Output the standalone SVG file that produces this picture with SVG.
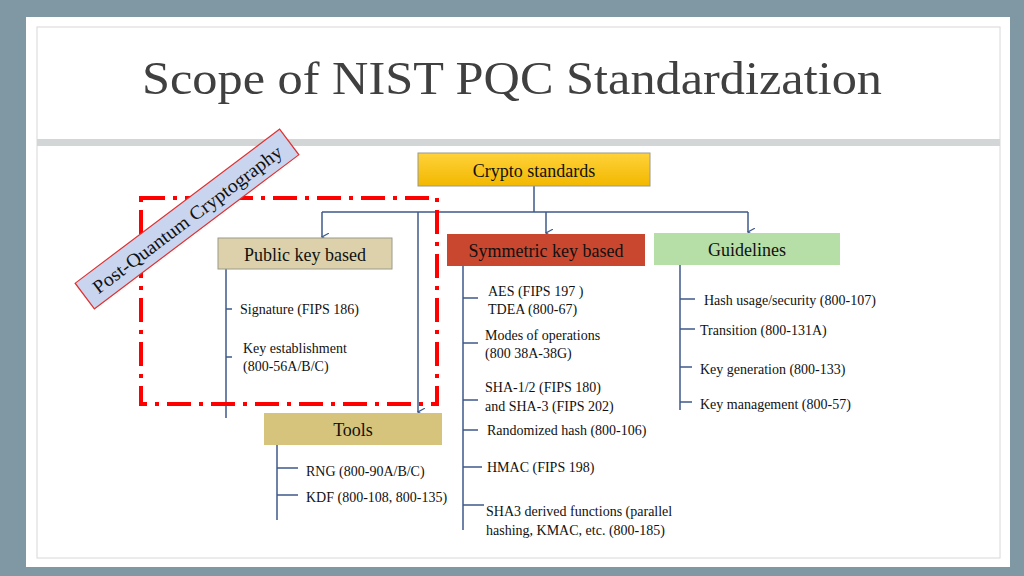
<svg xmlns="http://www.w3.org/2000/svg" width="1024" height="576" viewBox="0 0 1024 576">
<defs>
<style>
.t{font-family:"Liberation Serif","DejaVu Serif",serif;fill:#111}
.s{font-size:14px}
.n{font-size:18px}
.c{stroke:#3f5a8a;stroke-width:1.5;fill:none}
.box{stroke:#9a9a8a;stroke-width:1}
</style>
<marker id="a" viewBox="0 0 10 10" refX="5" refY="9" markerWidth="8" markerHeight="8" orient="auto-start-reverse" markerUnits="userSpaceOnUse"><path d="M0,0 L5,9 L10,0" fill="none" stroke="#3f5a8a" stroke-width="1.5"/></marker>
<linearGradient id="g" x1="0" y1="0" x2="0" y2="1"><stop offset="0" stop-color="#ffd23a"/><stop offset="1" stop-color="#f2b800"/></linearGradient>
</defs>
<rect width="1024" height="576" fill="#7f98a3"/>
<rect x="26" y="17" width="984" height="550" fill="#fff"/>
<rect x="37" y="27" width="963" height="531" fill="none" stroke="#d8d8d8"/>
<rect x="37" y="139" width="963" height="7" fill="#d3d6d6"/>
<text class="t" x="142" y="94" font-size="46" style="fill:#404040" textLength="740" lengthAdjust="spacingAndGlyphs">Scope of NIST PQC Standardization</text>
<g id="connectors">
<path class="c" d="M534,186 V212 M322,212 H748"/>
<path class="c" d="M322,212 V237" marker-end="url(#a)"/>
<path class="c" d="M546,212 V233" marker-end="url(#a)"/>
<path class="c" d="M748,212 V232" marker-end="url(#a)"/>
<path class="c" d="M418,212 V412" marker-end="url(#a)"/>
<path class="c" d="M226,269 V418 M226,309 H232 M226,357 H232"/>
<path class="c" d="M463,266 V530 M463,298 H478 M463,343 H478 M463,400 H478 M463,430 H478 M463,467 H482 M463,505 H484"/>
<path class="c" d="M680,265 V410 M680,299 H695 M680,329 H695 M680,367 H692 M680,402 H692"/>
<path class="c" d="M277,445 V520 M277,468 H298 M277,495 H298"/>
</g>
<rect x="141" y="198" width="296" height="206" fill="none" stroke="#f00" stroke-width="4" stroke-dasharray="24 8 4 8"/>
<g id="pqc" transform="translate(187,219) rotate(-37)">
<rect x="-128" y="-16" width="256" height="32" fill="#c9d4ee" stroke="#e03030" stroke-width="1.2"/>
<text class="t" x="0" y="7" font-size="19" text-anchor="middle" textLength="232" lengthAdjust="spacingAndGlyphs">Post-Quantum Cryptography</text>
</g>
<g id="crypto"><rect class="box" x="418" y="153" width="232" height="33" fill="url(#g)"/><text class="t n" x="534" y="177" text-anchor="middle">Crypto standards</text></g>
<g id="public"><rect class="box" x="218" y="238" width="174" height="31" fill="#ddd1ab" stroke="#555"/><text class="t n" x="305" y="261" text-anchor="middle">Public key based</text></g>
<g id="symmetric"><rect x="447" y="234" width="198" height="32" fill="#c9472f"/><text class="t n" x="546" y="257" text-anchor="middle">Symmetric key based</text></g>
<g id="guidelines"><rect x="654" y="233" width="186" height="32" fill="#b6dea7"/><text class="t n" x="747" y="256" text-anchor="middle">Guidelines</text></g>
<g id="tools"><rect x="264" y="413" width="178" height="32" fill="#d6c37c"/><text class="t n" x="353" y="436" text-anchor="middle">Tools</text></g>
<g id="labels" class="t s">
<text x="240" y="314">Signature (FIPS 186)</text>
<text x="243" y="353">Key establishment</text>
<text x="243" y="371">(800-56A/B/C)</text>
<text x="488" y="296">AES  (FIPS 197 )</text>
<text x="488" y="314">TDEA (800-67)</text>
<text x="485" y="340">Modes  of operations</text>
<text x="485" y="358">(800 38A-38G)</text>
<text x="485" y="392">SHA-1/2 (FIPS 180)</text>
<text x="485" y="411">and SHA-3 (FIPS 202)</text>
<text x="487" y="435">Randomized hash (800-106)</text>
<text x="487" y="472">HMAC (FIPS 198)</text>
<text x="486" y="516">SHA3 derived functions (parallel</text>
<text x="486" y="535">hashing, KMAC, etc. (800-185)</text>
<text x="704" y="305">Hash usage/security (800-107)</text>
<text x="700" y="335">Transition  (800-131A)</text>
<text x="700" y="374">Key generation (800-133)</text>
<text x="700" y="409">Key management (800-57)</text>
<text x="306" y="476">RNG (800-90A/B/C)</text>
<text x="306" y="502">KDF (800-108, 800-135)</text>
</g>
</svg>
